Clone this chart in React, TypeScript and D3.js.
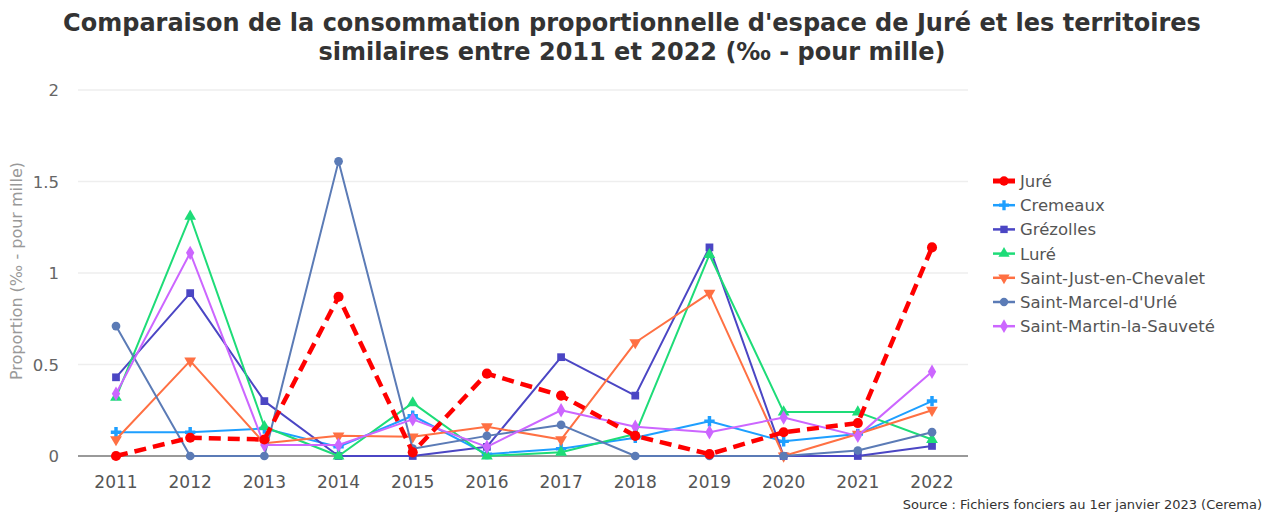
import React, { useEffect, useRef } from 'react';
import * as d3 from 'd3';

const years = ['2011', '2012', '2013', '2014', '2015', '2016', '2017', '2018', '2019', '2020', '2021', '2022'];
const yTicks = [0, 0.5, 1, 1.5, 2];

const jure = [0, 0.1, 0.09, 0.87, 0.02, 0.45, 0.33, 0.11, 0.01, 0.13, 0.18, 1.14];
const cremeaux = [0.13, 0.13, 0.15, 0.05, 0.22, 0.01, 0.04, 0.1, 0.19, 0.08, 0.12, 0.3];
const grezolles = [0.43, 0.89, 0.3, 0, 0, 0.05, 0.54, 0.33, 1.14, 0, 0, 0.055];
const lure = [0.32, 1.31, 0.16, 0, 0.29, 0, 0.02, 0.12, 1.1, 0.24, 0.24, 0.09];
const saintJust = [0.09, 0.52, 0.07, 0.11, 0.105, 0.16, 0.09, 0.62, 0.89, 0, 0.12, 0.25];
const saintMarcel = [0.71, 0, 0, 1.61, 0.04, 0.11, 0.17, 0, 0, 0, 0.03, 0.13];
const saintMartin = [0.34, 1.11, 0.06, 0.06, 0.2, 0.05, 0.25, 0.16, 0.13, 0.21, 0.11, 0.46];

const seriesNames = ['Juré', 'Cremeaux', 'Grézolles', 'Luré', 'Saint-Just-en-Chevalet', "Saint-Marcel-d'Urlé", 'Saint-Martin-la-Sauveté'];
const seriesValues = [jure, cremeaux, grezolles, lure, saintJust, saintMarcel, saintMartin];
const seriesColors = ['#ff0000', '#1e9fff', '#4b46c4', '#1edc78', '#ff7043', '#5b7bb6', '#cc66ff'];
const seriesSymbols = [d3.symbolCircle, d3.symbolCross, d3.symbolSquare, d3.symbolTriangle, d3.symbolTriangle, d3.symbolCircle, d3.symbolDiamond];

const W = 1271;
const H = 516;
const margin = { left: 78, right: 303, top: 90, bottom: 60 };

export default function App() {
  const svgRef = useRef<SVGSVGElement>(null);

  useEffect(() => {
    const svg = d3.select(svgRef.current);
    svg.selectAll('*').remove();

    const x = d3.scalePoint().domain(years).range([116, 932]);
    const y = d3.scaleLinear().domain([0, 2]).range([H - margin.bottom, margin.top]);
    const font = 'DejaVu Sans, sans-serif';

    // grid
    svg.append('g')
      .selectAll('line')
      .data(yTicks.filter(t => t > 0))
      .join('line')
      .attr('x1', margin.left)
      .attr('x2', W - margin.right)
      .attr('y1', d => y(d))
      .attr('y2', d => y(d))
      .attr('stroke', '#eeeeee')
      .attr('stroke-width', 1.5);

    svg.append('line')
      .attr('x1', margin.left)
      .attr('x2', W - margin.right)
      .attr('y1', y(0))
      .attr('y2', y(0))
      .attr('stroke', '#777')
      .attr('stroke-width', 1.5);

    // y labels
    svg.append('g')
      .selectAll('text')
      .data(yTicks)
      .join('text')
      .attr('x', 59)
      .attr('y', d => y(d) + 6)
      .attr('text-anchor', 'end')
      .attr('font-family', font)
      .attr('font-size', 16.5)
      .attr('fill', '#666')
      .text(d => String(d));

    svg.append('text')
      .attr('transform', `translate(22,${(y(0) + y(2)) / 2 - 2}) rotate(-90)`)
      .attr('text-anchor', 'middle')
      .attr('font-family', font)
      .attr('font-size', 16)
      .attr('fill', '#999')
      .text('Proportion (‰ - pour mille)');

    // x labels
    svg.append('g')
      .selectAll('text')
      .data(years)
      .join('text')
      .attr('x', d => x(d)!)
      .attr('y', y(0) + 32)
      .attr('text-anchor', 'middle')
      .attr('font-family', font)
      .attr('font-size', 17)
      .attr('fill', '#555')
      .text(d => d);

    // series
    const line = d3.line<number>()
      .x((_, i) => x(years[i])!)
      .y(v => y(v));

    const drawOrder = [1, 2, 3, 4, 5, 6, 0];
    drawOrder.forEach(s => {
      const g = svg.append('g');
      const isJure = s === 0;
      g.append('path')
        .attr('d', line(seriesValues[s])!)
        .attr('fill', 'none')
        .attr('stroke', seriesColors[s])
        .attr('stroke-width', isJure ? 4.5 : 2)
        .attr('stroke-dasharray', isJure ? '12,7' : null)
        .attr('stroke-linejoin', 'round');
      const sym = d3.symbol().type(seriesSymbols[s]).size(isJure ? 80 : 60);
      g.selectAll('path.m')
        .data(seriesValues[s])
        .join('path')
        .attr('class', 'm')
        .attr('d', sym()!)
        .attr('fill', seriesColors[s])
        .attr('transform', (v, i) => `translate(${x(years[i])},${y(v)})${s === 4 ? ' rotate(180)' : ''}`);
    });

    // legend
    const legend = svg.append('g').attr('transform', 'translate(993,181)');
    seriesNames.forEach((name, i) => {
      const row = legend.append('g').attr('transform', `translate(0,${i * 24.2})`);
      row.append('line')
        .attr('x1', 0).attr('x2', 22)
        .attr('y1', 0).attr('y2', 0)
        .attr('stroke', seriesColors[i])
        .attr('stroke-width', i === 0 ? 5 : 2.5);
      row.append('path')
        .attr('d', d3.symbol().type(seriesSymbols[i]).size(i === 0 ? 70 : 55)()!)
        .attr('fill', seriesColors[i])
        .attr('transform', `translate(11,0)${i === 4 ? ' rotate(180)' : ''}`);
      row.append('text')
        .attr('x', 27)
        .attr('y', 6)
        .attr('font-family', font)
        .attr('font-size', 16.5)
        .attr('fill', '#555')
        .text(name);
    });

    // title
    const title = svg.append('text')
      .attr('text-anchor', 'middle')
      .attr('font-family', font)
      .attr('font-weight', 'bold')
      .attr('font-size', 24)
      .attr('fill', '#333');
    title.append('tspan').attr('x', 632).attr('y', 31)
      .text("Comparaison de la consommation proportionnelle d'espace de Juré et les territoires");
    title.append('tspan').attr('x', 632).attr('y', 60)
      .text('similaires entre 2011 et 2022 (‰ - pour mille)');

    svg.append('text')
      .attr('x', 1262)
      .attr('y', 509)
      .attr('text-anchor', 'end')
      .attr('font-family', font)
      .attr('font-size', 13)
      .attr('fill', '#333')
      .text('Source : Fichiers fonciers au 1er janvier 2023 (Cerema)');
  }, []);

  return (
    <svg
      ref={svgRef}
      width={W}
      height={H}
      viewBox={`0 0 ${W} ${H}`}
      style={{ position: 'absolute', left: 0, top: 0, background: '#fff' }}
    />
  );
}
